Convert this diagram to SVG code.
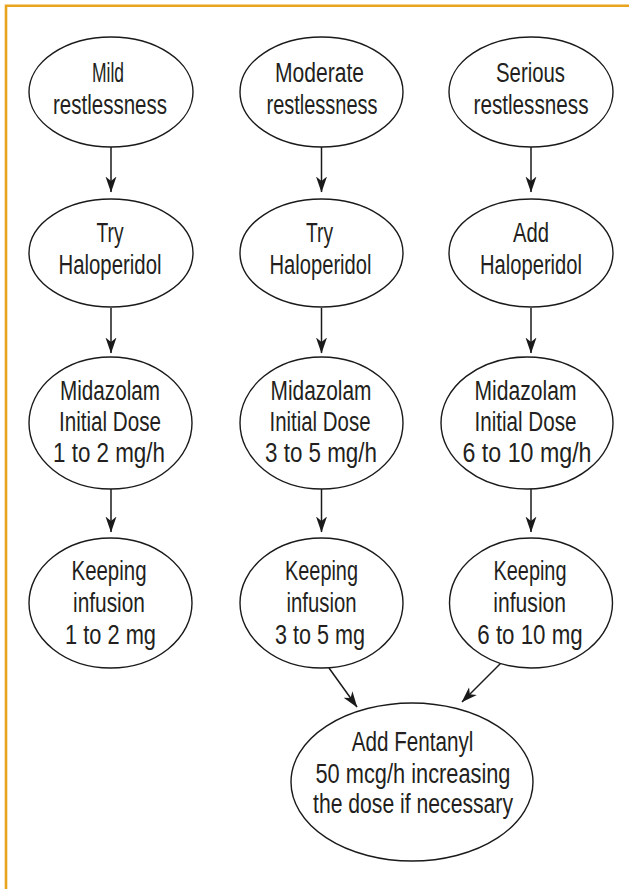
<svg xmlns="http://www.w3.org/2000/svg" width="629" height="889" viewBox="0 0 629 889">
<style>
.node ellipse{fill:#fff;stroke:#1a1a1a;stroke-width:1.4}
.node text{font-family:"Liberation Sans",Arial,sans-serif;font-size:27px;fill:#231f20;text-anchor:middle}
.conn line{stroke:#1a1a1a;stroke-width:1.5;fill:none}
.frame{stroke:#E8A41C;stroke-width:2.6;fill:none}
</style>
<defs>
<marker id="arr" markerUnits="userSpaceOnUse" viewBox="0 0 16 12" refX="15.5" refY="6" markerWidth="16" markerHeight="12" orient="auto">
<path d="M0,0.5 L16,6 L0,11.5 L4.5,6 Z" fill="#1a1a1a"/>
</marker>
</defs>
<rect width="629" height="889" fill="#fff"/>
<path class="frame" d="M6,895 V5.8 H640"/>

<g class="conn">
<line x1="111" y1="147" x2="111" y2="192" marker-end="url(#arr)"/>
<line x1="321.5" y1="147" x2="321.5" y2="192" marker-end="url(#arr)"/>
<line x1="531" y1="147" x2="531" y2="192" marker-end="url(#arr)"/>
<line x1="111" y1="308" x2="111" y2="353" marker-end="url(#arr)"/>
<line x1="321.5" y1="308" x2="321.5" y2="353" marker-end="url(#arr)"/>
<line x1="531" y1="308" x2="531" y2="353" marker-end="url(#arr)"/>
<line x1="111" y1="489" x2="111" y2="532" marker-end="url(#arr)"/>
<line x1="321.5" y1="489" x2="321.5" y2="532" marker-end="url(#arr)"/>
<line x1="531" y1="489" x2="531" y2="532" marker-end="url(#arr)"/>
<line x1="329" y1="668" x2="357" y2="707" marker-end="url(#arr)"/>
<line x1="502" y1="662" x2="462" y2="702" marker-end="url(#arr)"/>
</g>

<g id="mild" class="node">
<ellipse cx="111" cy="92" rx="82" ry="55"/>
<text x="108" y="82" textLength="32" lengthAdjust="spacingAndGlyphs">Mild</text>
<text x="110" y="113.5" textLength="114" lengthAdjust="spacingAndGlyphs">restlessness</text>
</g>
<g id="moderate" class="node">
<ellipse cx="321.5" cy="92" rx="81.5" ry="55"/>
<text x="319.5" y="82" textLength="89" lengthAdjust="spacingAndGlyphs">Moderate</text>
<text x="322" y="113.5" textLength="111" lengthAdjust="spacingAndGlyphs">restlessness</text>
</g>
<g id="serious" class="node">
<ellipse cx="531" cy="92" rx="82" ry="55"/>
<text x="530.5" y="82" textLength="69" lengthAdjust="spacingAndGlyphs">Serious</text>
<text x="531" y="113.5" textLength="115" lengthAdjust="spacingAndGlyphs">restlessness</text>
</g>

<g id="halo1" class="node">
<ellipse cx="111" cy="253" rx="82" ry="54"/>
<text x="110" y="242" textLength="27" lengthAdjust="spacingAndGlyphs">Try</text>
<text x="110" y="273.5" textLength="103" lengthAdjust="spacingAndGlyphs">Haloperidol</text>
</g>
<g id="halo2" class="node">
<ellipse cx="321.5" cy="253" rx="81.5" ry="54"/>
<text x="319.5" y="242" textLength="27" lengthAdjust="spacingAndGlyphs">Try</text>
<text x="320.5" y="273.5" textLength="102" lengthAdjust="spacingAndGlyphs">Haloperidol</text>
</g>
<g id="halo3" class="node">
<ellipse cx="531" cy="253" rx="82" ry="54"/>
<text x="531" y="242" textLength="36" lengthAdjust="spacingAndGlyphs">Add</text>
<text x="531" y="273.5" textLength="102" lengthAdjust="spacingAndGlyphs">Haloperidol</text>
</g>

<g id="mida1" class="node">
<ellipse cx="110.5" cy="423" rx="81.5" ry="66"/>
<text x="110" y="399.5" textLength="100" lengthAdjust="spacingAndGlyphs">Midazolam</text>
<text x="110" y="431" textLength="102" lengthAdjust="spacingAndGlyphs">Initial Dose</text>
<text x="109" y="462" textLength="112" lengthAdjust="spacingAndGlyphs">1 to 2 mg/h</text>
</g>
<g id="mida2" class="node">
<ellipse cx="321.5" cy="423" rx="81.5" ry="66"/>
<text x="321" y="399.5" textLength="101" lengthAdjust="spacingAndGlyphs">Midazolam</text>
<text x="320" y="431" textLength="101" lengthAdjust="spacingAndGlyphs">Initial Dose</text>
<text x="321" y="462" textLength="112" lengthAdjust="spacingAndGlyphs">3 to 5 mg/h</text>
</g>
<g id="mida3" class="node">
<ellipse cx="527" cy="423" rx="86" ry="66"/>
<text x="525.5" y="399.5" textLength="102" lengthAdjust="spacingAndGlyphs">Midazolam</text>
<text x="525.5" y="431" textLength="102" lengthAdjust="spacingAndGlyphs">Initial Dose</text>
<text x="527" y="462" textLength="129" lengthAdjust="spacingAndGlyphs">6 to 10 mg/h</text>
</g>

<g id="keep1" class="node">
<ellipse cx="110.5" cy="603" rx="81.5" ry="65"/>
<text x="109" y="580" textLength="75" lengthAdjust="spacingAndGlyphs">Keeping</text>
<text x="109" y="611.5" textLength="72" lengthAdjust="spacingAndGlyphs">infusion</text>
<text x="110.5" y="643.5" textLength="91" lengthAdjust="spacingAndGlyphs">1 to 2 mg</text>
</g>
<g id="keep2" class="node">
<ellipse cx="321.5" cy="603" rx="81.5" ry="65"/>
<text x="321.5" y="580" textLength="73" lengthAdjust="spacingAndGlyphs">Keeping</text>
<text x="321.5" y="611.5" textLength="70" lengthAdjust="spacingAndGlyphs">infusion</text>
<text x="320" y="643.5" textLength="90" lengthAdjust="spacingAndGlyphs">3 to 5 mg</text>
</g>
<g id="keep3" class="node">
<ellipse cx="531" cy="603" rx="81.5" ry="65"/>
<text x="530" y="580" textLength="73" lengthAdjust="spacingAndGlyphs">Keeping</text>
<text x="529.7" y="611.5" textLength="72.7" lengthAdjust="spacingAndGlyphs">infusion</text>
<text x="530" y="643.5" textLength="105.4" lengthAdjust="spacingAndGlyphs">6 to 10 mg</text>
</g>

<g id="fentanyl" class="node">
<ellipse cx="412" cy="782" rx="121" ry="79"/>
<text x="412.5" y="751" textLength="121.6" lengthAdjust="spacingAndGlyphs">Add Fentanyl</text>
<text x="413" y="782.5" textLength="195" lengthAdjust="spacingAndGlyphs">50 mcg/h increasing</text>
<text x="413" y="813" textLength="200" lengthAdjust="spacingAndGlyphs">the dose if necessary</text>
</g>
</svg>
